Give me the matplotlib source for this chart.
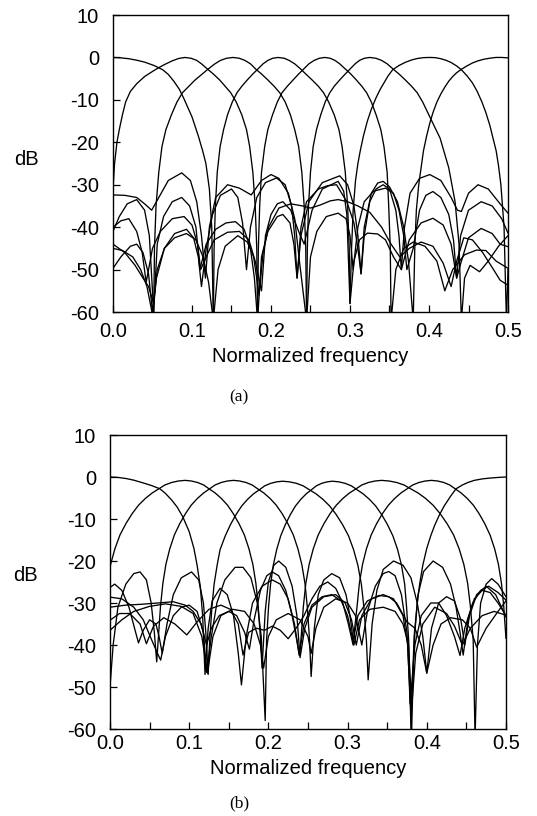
import matplotlib
matplotlib.use("Agg")
import matplotlib.pyplot as plt
from matplotlib.ticker import MultipleLocator, FormatStrFormatter

plt.rcParams['axes.unicode_minus'] = False
plt.rcParams['font.family'] = ['Liberation Sans', 'DejaVu Sans']

# ---------------- Panel (a): magnitude responses (normalized frequency, dB) ----------------
A0 = [(0,0),(0.01,-0.1),(0.02,-0.3),(0.03,-0.65),(0.04,-1.1),(0.052,-1.9),(0.063,-2.9),(0.07,-4),(0.077,-5.6),(0.084,-7.5),(0.09,-9.8),(0.1,-14),(0.108,-18.5),(0.1135,-22),(0.1176,-25),(0.122,-31),(0.125,-40),(0.127,-62),
      (0.133,-50),(0.142,-44.5),(0.158,-42),(0.17,-43.5),(0.178,-47),(0.185,-56),(0.19,-46),(0.197,-40),(0.21,-35.5),(0.225,-34.5),(0.24,-35),(0.25,-35.5),(0.262,-34.8),(0.275,-33.8),(0.285,-33.5),(0.297,-34),(0.31,-35),(0.325,-36.5),(0.34,-40),(0.352,-44),(0.363,-47),(0.375,-45),(0.39,-43.5),(0.405,-44.5),(0.418,-48.5),(0.428,-54),(0.435,-48),(0.444,-42.5),(0.455,-43),(0.468,-46),(0.48,-49.5),(0.49,-52.5),(0.5,-53.7)]
A1 = [(0,-31),(0.002,-25),(0.005,-20),(0.008,-17),(0.012,-13.5),(0.016,-10.5),(0.022,-8),(0.03,-6.2),(0.04,-4.5),(0.05,-3.3),(0.057,-2.5),(0.066,-1.6),(0.075,-0.8),(0.083,-0.25),(0.091,0),
      (0.099,-0.2),(0.106,-0.7),(0.112,-1.5),(0.12,-2.8),(0.127,-3.9),(0.135,-5.3),(0.142,-6.8),(0.149,-8.3),(0.156,-10.5),(0.163,-13.5),(0.169,-17),(0.173,-21),(0.177,-27),(0.18,-35),(0.182,-45),(0.183,-62),
      (0.188,-47),(0.196,-41),(0.208,-37.5),(0.215,-37),(0.224,-39),(0.229,-44),(0.233,-52),
      (0.238,-40),(0.245,-34),(0.26,-31),(0.272,-30.2),(0.283,-30),(0.296,-34),(0.305,-39),(0.31,-45),(0.314,-51),
      (0.318,-42),(0.325,-34),(0.333,-31),(0.342,-30),(0.35,-31),(0.358,-36),(0.362,-42),(0.365,-50),
      (0.369,-40),(0.376,-32),(0.388,-28.5),(0.401,-27.6),(0.415,-29),(0.428,-33),(0.436,-36),(0.441,-36.3),(0.45,-32),(0.462,-30),(0.475,-31),(0.49,-34.5),(0.5,-36.7)]
A2 = [(0,-45),(0.012,-45.5),(0.025,-47),(0.035,-50),(0.043,-54),(0.0515,-62),
      (0.0525,-45),(0.0545,-35),(0.058,-27),(0.062,-21),(0.067,-17),(0.074,-13.5),(0.081,-10.5),(0.088,-8.3),(0.096,-6.8),(0.104,-5.3),(0.113,-3.9),(0.12,-2.8),(0.129,-1.5),(0.136,-0.7),(0.1435,-0.2),(0.152,0),
      (0.16,-0.2),(0.167,-0.7),(0.174,-1.5),(0.181,-2.8),(0.188,-3.9),(0.196,-5.3),(0.204,-6.8),(0.211,-8.3),(0.218,-10.5),(0.2245,-13.5),(0.23,-17),(0.235,-21),(0.239,-27),(0.242,-35),(0.244,-45),(0.245,-62),
      (0.25,-47),(0.258,-41),(0.27,-37.5),(0.285,-36.7),(0.295,-38),(0.3,-42),(0.304,-50),
      (0.31,-40),(0.318,-34),(0.33,-31.5),(0.345,-30.8),(0.355,-32),(0.362,-36),(0.368,-42),(0.372,-50),
      (0.38,-45),(0.388,-36),(0.396,-32.5),(0.405,-31.6),(0.415,-33),(0.425,-37),(0.431,-43),(0.435,-52),
      (0.44,-42),(0.45,-36),(0.466,-34),(0.48,-35),(0.492,-38),(0.5,-41.4)]
A3 = [(0,-44),(0.015,-46),(0.028,-49),(0.038,-52),(0.045,-54),(0.0515,-58),(0.056,-50),(0.065,-45),(0.078,-42.5),(0.093,-41.5),(0.105,-43),(0.114,-47),(0.121,-53),(0.127,-62),
      (0.128,-45),(0.1296,-35),(0.132,-27),(0.1356,-21),(0.14,-17),(0.145,-13.5),(0.151,-10.5),(0.157,-8.3),(0.163,-6.8),(0.17,-5.3),(0.177,-3.9),(0.183,-2.8),(0.19,-1.5),(0.196,-0.7),(0.202,-0.2),(0.209,0),
      (0.217,-0.2),(0.223,-0.7),(0.23,-1.5),(0.238,-2.8),(0.244,-3.9),(0.252,-5.3),(0.26,-6.8),(0.2665,-8.3),(0.273,-10.5),(0.28,-13.5),(0.286,-17),(0.29,-21),(0.294,-27),(0.297,-35),(0.299,-45),(0.3,-58),
      (0.305,-48),(0.312,-43),(0.322,-41.4),(0.335,-41.6),(0.345,-43),(0.355,-47),(0.365,-50),(0.375,-43),(0.39,-39),(0.405,-37.9),(0.418,-39.5),(0.428,-44),(0.435,-52),(0.441,-48),(0.45,-42.5),(0.466,-40.3),(0.48,-41.5),(0.49,-44),(0.5,-44.6)]
A4 = [(0,-41),(0.008,-37.5),(0.018,-34.5),(0.03,-33.5),(0.04,-36),(0.046,-42),(0.0515,-60),(0.056,-44),(0.064,-37.5),(0.075,-34),(0.087,-33),(0.097,-35),(0.105,-40),(0.11,-50),(0.118,-44),(0.13,-40.5),(0.143,-39),(0.155,-38.7),(0.166,-40.5),(0.174,-45),(0.179,-52),(0.183,-62),
      (0.184,-45),(0.1857,-35),(0.188,-27),(0.192,-21),(0.196,-17),(0.202,-13.5),(0.208,-10.5),(0.214,-8.3),(0.2206,-6.8),(0.228,-5.3),(0.235,-3.9),(0.241,-2.8),(0.248,-1.5),(0.2546,-0.7),(0.261,-0.2),(0.268,0),
      (0.275,-0.2),(0.281,-0.7),(0.287,-1.5),(0.2945,-2.8),(0.301,-3.9),(0.308,-5.3),(0.315,-6.8),(0.321,-8.3),(0.327,-10.5),(0.333,-13.5),(0.339,-17),(0.343,-21),(0.347,-27),(0.349,-35),(0.351,-45),(0.352,-62),
      (0.358,-50),(0.368,-45),(0.38,-43.5),(0.395,-44.5),(0.41,-48),(0.42,-55),(0.43,-50),(0.445,-46.5),(0.46,-45.4),(0.472,-45.5),(0.485,-48),(0.5,-49.7)]
A5 = [(0,-32.4),(0.015,-32.5),(0.03,-33),(0.04,-34.5),(0.049,-36),(0.058,-33),(0.07,-29),(0.087,-27.2),(0.098,-29),(0.106,-34),(0.112,-42),(0.117,-52),(0.122,-40),(0.13,-33),(0.145,-30),(0.16,-30.8),(0.175,-32.4),(0.188,-29),(0.2,-27.6),(0.21,-28.5),(0.222,-32),(0.23,-38),(0.236,-48),(0.245,-62),
      (0.246,-45),(0.2475,-35),(0.25,-27),(0.2534,-21),(0.2576,-17),(0.263,-13.5),(0.2686,-10.5),(0.2745,-8.3),(0.28,-6.8),(0.287,-5.3),(0.294,-3.9),(0.2997,-2.8),(0.3065,-1.5),(0.312,-0.7),(0.318,-0.2),(0.325,0),
      (0.333,-0.2),(0.34,-0.7),(0.347,-1.5),(0.355,-2.8),(0.362,-3.9),(0.37,-5.3),(0.378,-6.8),(0.385,-8.3),(0.392,-10.5),(0.401,-14),(0.414,-19),(0.425,-26),(0.433,-34),(0.438,-44),(0.441,-62),
      (0.445,-52),(0.452,-49),(0.464,-50.5),(0.475,-48),(0.488,-44.5),(0.5,-42)]
A6 = [(0,-40),(0.01,-38.5),(0.02,-38),(0.03,-41),(0.037,-46),(0.042,-53),(0.05,-45),(0.06,-41),(0.075,-38),(0.09,-37.5),(0.1,-39.5),(0.107,-44),(0.111,-50),(0.118,-47),(0.128,-43),(0.145,-41.2),(0.16,-41),(0.172,-43),(0.18,-48),(0.188,-55),(0.193,-42),(0.2,-37),(0.208,-34.5),(0.215,-34),(0.225,-36),(0.235,-41),(0.242,-44),(0.252,-36),(0.265,-31),(0.285,-29.2),(0.292,-31.5),(0.296,-37),(0.3,-58),
      (0.302,-45),(0.304,-36),(0.307,-29),(0.31,-25),(0.313,-22),(0.317,-18.5),(0.322,-15),(0.327,-12.2),(0.333,-9.5),(0.338,-7.6),(0.343,-6),(0.348,-4.4),(0.354,-2.9),(0.362,-1.9),(0.37,-1.15),(0.378,-0.6),(0.385,-0.25),(0.393,-0.05),(0.401,0),
      (0.408,-0.05),(0.415,-0.3),(0.422,-0.7),(0.428,-1.2),(0.435,-2),(0.441,-2.9),(0.448,-4.3),(0.455,-6),(0.461,-8),(0.467,-10.5),(0.472,-13),(0.477,-16),(0.481,-19),(0.485,-22),(0.488,-25.5),(0.491,-30),(0.495,-40),(0.498,-62),(0.5,-50)]
A7 = [(0,-49.7),(0.01,-47),(0.022,-44.5),(0.03,-44),(0.038,-46),(0.045,-51),(0.05,-60),(0.055,-52),(0.065,-45),(0.078,-41.5),(0.093,-40.5),(0.102,-42.5),(0.108,-47),(0.112,-54),(0.118,-45),(0.126,-37),(0.136,-32.5),(0.15,-31),(0.158,-33),(0.164,-39),(0.169,-50),(0.174,-40),(0.182,-33),(0.193,-29.5),(0.207,-28.4),(0.218,-30),(0.226,-35),(0.23,-42),(0.233,-52),(0.238,-42),(0.248,-34),(0.265,-29.5),(0.287,-27.9),(0.297,-30),(0.305,-35),(0.31,-42),(0.314,-51),(0.318,-40),(0.327,-32),(0.335,-29.6),(0.342,-29.2),(0.35,-30.5),(0.36,-34),(0.368,-40),(0.374,-48),(0.38,-62),
      (0.382,-45),(0.384,-36),(0.387,-30),(0.39,-26),(0.393,-22),(0.397,-18.5),(0.401,-15.5),(0.405,-13),(0.41,-10.5),(0.415,-8.6),(0.42,-7),(0.425,-5.6),(0.43,-4.5),(0.435,-3.6),(0.441,-2.8),(0.448,-2),(0.455,-1.3),(0.462,-0.8),(0.47,-0.4),(0.478,-0.15),(0.485,0),(0.492,0),(0.5,-0.1)]

# ---------------- Panel (b) ----------------
B0 = [(0,0),(0.01,-0.1),(0.02,-0.35),(0.03,-0.75),(0.04,-1.3),(0.052,-2),(0.063,-2.8),(0.07,-3.9),(0.078,-5.5),(0.085,-7.2),(0.092,-9.5),(0.1,-13),(0.106,-17),(0.11,-21),(0.114,-26),(0.117,-33),(0.12,-47),
      (0.124,-36),(0.129,-29.5),(0.139,-26.5),(0.148,-28),(0.156,-33),(0.162,-42),(0.166,-49.5),
      (0.172,-38),(0.18,-30),(0.192,-26),(0.205,-24.5),(0.215,-25.5),(0.225,-29),(0.233,-35),(0.239,-42.4),
      (0.245,-35),(0.255,-30.5),(0.268,-28.5),(0.28,-28),(0.292,-29.5),(0.3,-33),(0.307,-39.2),
      (0.313,-33),(0.325,-29.5),(0.34,-28.2),(0.352,-28.5),(0.362,-30),(0.375,-34.5),(0.385,-36),(0.393,-40),(0.4,-46.7),
      (0.408,-40),(0.418,-35),(0.43,-33.5),(0.445,-34),(0.455,-36),(0.463,-40.5),(0.475,-36),(0.49,-32),(0.5,-29.5)]
B1 = [(0,-21.5),(0.0008,-20.8),(0.0062,-17.1),(0.0126,-13.8),(0.0201,-11.1),(0.0281,-8.7),(0.0361,-6.7),(0.0447,-5.1),(0.0533,-3.8),(0.0618,-2.8),(0.0693,-1.9),(0.0779,-1.3),(0.0864,-0.95),(0.095,-0.8),
      (0.1028,-0.95),(0.1105,-1.3),(0.1183,-1.9),(0.125,-2.8),(0.1328,-3.8),(0.1406,-5.1),(0.1484,-6.7),(0.1556,-8.7),(0.1629,-11.1),(0.1697,-13.8),(0.1755,-17.1),(0.1804,-20.8),(0.1842,-25.3),(0.1872,-30.8),(0.1901,-38.8),(0.192,-45.5),
      (0.196,-32),(0.2,-25),(0.207,-21),(0.213,-20),(0.222,-21.5),(0.23,-26),(0.236,-33),(0.24,-43),
      (0.246,-36),(0.255,-31),(0.27,-28.5),(0.285,-28),(0.297,-30),(0.305,-34),(0.311,-40),
      (0.318,-33),(0.33,-29),(0.345,-28),(0.358,-29),(0.37,-33),(0.376,-40),(0.379,-54),
      (0.385,-40),(0.393,-33),(0.405,-30),(0.415,-30),(0.425,-33),(0.435,-38),(0.442,-42.5),
      (0.448,-36),(0.458,-30),(0.468,-27),(0.478,-26),(0.49,-27.5),(0.5,-29.3)]
B2 = [(0,-50),(0.004,-40),(0.01,-31),(0.02,-25.5),(0.03,-23),(0.038,-22.6),(0.046,-24.5),(0.052,-30),(0.056,-37),(0.059,-44),
      (0.0609,-38.8),(0.0638,-30.8),(0.0668,-25.3),(0.0706,-20.8),(0.0755,-17.1),(0.0813,-13.8),(0.0881,-11.1),(0.0954,-8.7),(0.1026,-6.7),(0.1104,-5.1),(0.1182,-3.8),(0.1259,-2.8),(0.1327,-1.9),(0.1405,-1.3),(0.1482,-0.95),(0.156,-0.8),
      (0.1638,-0.95),(0.1717,-1.3),(0.1795,-1.9),(0.1864,-2.8),(0.1942,-3.8),(0.2021,-5.1),(0.2099,-6.7),(0.2173,-8.7),(0.2246,-11.1),(0.2315,-13.8),(0.2373,-17.1),(0.2422,-20.8),(0.2462,-25.3),(0.2491,-30.8),(0.252,-38.8),(0.254,-47.5),
      (0.258,-36),(0.263,-28),(0.27,-24.5),(0.28,-23),(0.29,-24),(0.298,-28),(0.303,-33),(0.308,-40),
      (0.315,-34),(0.328,-31.5),(0.345,-31),(0.36,-32),(0.37,-35),(0.377,-40),(0.381,-55),
      (0.386,-42),(0.395,-35),(0.41,-31),(0.425,-32.5),(0.435,-35.5),(0.445,-40),
      (0.455,-36),(0.47,-33),(0.485,-32),(0.5,-32.9)]
B3 = [(0,-26.3),(0.006,-25.5),(0.015,-27),(0.024,-31),(0.031,-36),(0.036,-39.5),(0.042,-36.5),(0.05,-34),(0.058,-35),(0.062,-38),(0.066,-42),(0.072,-35),(0.08,-28),(0.09,-24),(0.103,-22.6),(0.112,-24.5),(0.118,-30),(0.121,-37),(0.124,-47),
      (0.1259,-39),(0.1287,-31),(0.1315,-25.5),(0.1353,-21),(0.139,-17.3),(0.1456,-14),(0.1522,-11.3),(0.1593,-8.9),(0.1663,-6.9),(0.1738,-5.3),(0.1813,-4),(0.1889,-3),(0.1954,-2.1),(0.203,-1.5),(0.2105,-1.15),(0.218,-1),
      (0.2266,-1.15),(0.2353,-1.5),(0.2439,-2.1),(0.2515,-3),(0.2601,-4),(0.2688,-5.3),(0.2774,-6.9),(0.2855,-8.9),(0.2936,-11.3),(0.3012,-14),(0.3076,-17.3),(0.313,-21),(0.3174,-25.5),(0.3206,-31),(0.3238,-39),(0.326,-48.3),
      (0.331,-35),(0.337,-27),(0.345,-22),(0.358,-20),(0.37,-21),(0.38,-24),(0.388,-30),(0.395,-38),(0.4,-46.7),
      (0.406,-36),(0.415,-30),(0.425,-28.5),(0.435,-29.5),(0.443,-34),(0.448,-40),
      (0.454,-33),(0.463,-28),(0.475,-26),(0.487,-28),(0.5,-33.3)]
B4 = [(0,-28.6),(0.015,-29),(0.03,-31),(0.042,-34),(0.052,-38.5),(0.06,-42),(0.064,-43.6),(0.07,-38),(0.08,-33),(0.09,-31),(0.1,-30.5),(0.11,-32),(0.118,-37),(0.122,-46.5),
      (0.128,-38),(0.135,-30),(0.145,-24.5),(0.158,-21.5),(0.168,-21.5),(0.178,-24),(0.186,-30),(0.191,-38),(0.196,-58),
      (0.1977,-39),(0.2002,-31),(0.2028,-25.5),(0.2062,-21),(0.2105,-17.3),(0.2156,-14),(0.2215,-11.3),(0.2279,-8.9),(0.2342,-6.9),(0.241,-5.3),(0.2478,-4),(0.2546,-3),(0.2606,-2.1),(0.2674,-1.5),(0.2742,-1.15),(0.281,-1),
      (0.2889,-1.15),(0.2968,-1.5),(0.3048,-2.1),(0.3117,-3),(0.3196,-4),(0.3275,-5.3),(0.3355,-6.9),(0.3429,-8.9),(0.3503,-11.3),(0.3572,-14),(0.3632,-17.3),(0.3681,-21),(0.3721,-25.5),(0.3745,-31),(0.3772,-39),(0.38,-60),
      (0.384,-38),(0.389,-28),(0.396,-22.5),(0.408,-20),(0.42,-21.5),(0.43,-25.5),(0.437,-31),(0.442,-37),(0.446,-42.4),
      (0.452,-34),(0.46,-29),(0.47,-27),(0.48,-27.5),(0.49,-30),(0.5,-33)]
B5 = [(0,-31),(0.02,-30.5),(0.04,-30.3),(0.06,-30),(0.08,-29.7),(0.095,-30.5),(0.105,-32),(0.115,-35),(0.122,-40),(0.128,-36),(0.138,-33),(0.15,-32),(0.16,-33),(0.17,-37),(0.176,-41),
      (0.182,-34),(0.19,-27),(0.198,-23.5),(0.205,-22.6),(0.213,-23.5),(0.222,-27),(0.23,-33),(0.236,-39),(0.239,-42.4),
      (0.2411,-38.8),(0.2442,-30.8),(0.2473,-25.3),(0.2515,-20.8),(0.2567,-17.1),(0.2629,-13.8),(0.2702,-11.1),(0.278,-8.7),(0.2858,-6.7),(0.2941,-5.1),(0.3024,-3.8),(0.3108,-2.8),(0.318,-1.9),(0.3264,-1.3),(0.3347,-0.95),(0.343,-0.8),
      (0.3524,-0.95),(0.3619,-1.3),(0.3713,-1.9),(0.3796,-2.8),(0.389,-3.8),(0.3985,-5.1),(0.4079,-6.7),(0.4168,-8.7),(0.4256,-11.1),(0.4339,-13.8),(0.4409,-17.1),(0.4468,-20.8),(0.4516,-25.3),(0.4551,-30.8),(0.4586,-38.8),(0.461,-62),
      (0.464,-40),(0.468,-30),(0.475,-25.5),(0.482,-24.2),(0.49,-25.5),(0.5,-28.5)]
B6 = [(0,-34.1),(0.012,-32.5),(0.025,-32.5),(0.038,-35),(0.046,-39.7),(0.055,-35.5),(0.068,-33.5),(0.082,-35),(0.097,-37.6),(0.11,-34.5),(0.125,-31.5),(0.14,-30.5),(0.152,-31.5),(0.162,-35),(0.168,-42.4),(0.175,-37),(0.185,-36),(0.195,-36.5),(0.205,-35.5),(0.215,-36.5),(0.225,-38.5),(0.235,-36),(0.245,-33),(0.255,-29),(0.265,-26),(0.275,-25),(0.285,-26.5),(0.294,-30),(0.301,-35),(0.307,-40),
      (0.309,-36),(0.312,-30.8),(0.3149,-25.3),(0.3189,-20.8),(0.3238,-17.1),(0.3298,-13.8),(0.3367,-11.1),(0.3441,-8.7),(0.3516,-6.7),(0.3595,-5.1),(0.3674,-3.8),(0.3753,-2.8),(0.3822,-1.9),(0.3902,-1.3),(0.3981,-0.95),(0.406,-0.8),
      (0.4137,-0.95),(0.4214,-1.3),(0.429,-1.9),(0.4358,-2.8),(0.4434,-3.8),(0.4511,-5.1),(0.4588,-6.7),(0.466,-8.7),(0.4732,-11.1),(0.4799,-13.8),(0.4857,-17.1),(0.4905,-20.8),(0.4943,-25.3),(0.4972,-30.8),(0.5,-38.4)]
B7 = [(0,-36.5),(0.015,-34),(0.03,-32),(0.05,-30.8),(0.07,-30.2),(0.09,-30.8),(0.105,-32.5),(0.116,-38),(0.123,-46.7),(0.13,-38),(0.14,-33),(0.155,-31.5),(0.17,-32),(0.182,-35),(0.19,-40),(0.194,-45.5),(0.2,-38),(0.21,-34),(0.225,-32.5),(0.24,-34),(0.25,-38),(0.254,-42),(0.26,-36),(0.27,-31),(0.285,-29),(0.3,-30),(0.31,-33),(0.318,-40),(0.325,-32),(0.335,-26),(0.345,-23),(0.352,-22.5),(0.36,-23.5),(0.368,-28),(0.375,-37),(0.381,-60),
      (0.383,-45),(0.385,-37),(0.388,-30),(0.391,-25.5),(0.395,-21),(0.4,-17),(0.405,-14),(0.41,-11.5),(0.416,-9),(0.422,-6.9),(0.43,-4.6),(0.437,-2.8),(0.445,-1.9),(0.452,-1.3),(0.46,-0.8),(0.47,-0.45),(0.48,-0.25),(0.49,-0.1),(0.5,0)]

X_TICKS = [0.0, 0.1, 0.2, 0.3, 0.4, 0.5]
Y_TICKS = [-60, -50, -40, -30, -20, -10, 0, 10]
X_LABEL = "Normalized frequency"
Y_LABEL = "dB"

FS = 14.5
fig = plt.figure(figsize=(5.37, 8.16), dpi=100)


def panel(rect, curves, xpad):
    ax = fig.add_axes(rect)
    for c in curves:
        f = [p[0] for p in c]
        d = [p[1] for p in c]
        ax.plot(f, d, color='black', lw=0.95, solid_joinstyle='round')
    ax.set_xlim(0, 0.5)
    ax.set_ylim(-60, 10)
    ax.set_xticks(X_TICKS)
    ax.set_yticks(Y_TICKS)
    ax.xaxis.set_minor_locator(MultipleLocator(0.05))
    ax.xaxis.set_major_formatter(FormatStrFormatter('%.1f'))
    ax.yaxis.set_major_formatter(FormatStrFormatter('%d'))
    ax.tick_params(which='both', direction='in', length=5, width=0.9, top=False, right=False)
    ax.tick_params(axis='x', labelsize=FS, pad=xpad)
    ax.tick_params(axis='y', labelsize=FS, pad=10)
    for s in ax.spines.values():
        s.set_linewidth(1.0)
    return ax


ax_a = panel([0.2104, 0.6176, 0.7356, 0.364], [A0, A1, A2, A3, A4, A5, A6, A7], 7)
ax_b = panel([0.2048, 0.1066, 0.7374, 0.3603], [B0, B1, B2, B3, B4, B5, B6, B7], 3.5)

# axis titles (placed to match the original layout)
fig.text(0.578, 0.5625, X_LABEL, fontsize=FS, ha='center', va='center')
fig.text(0.574, 0.058, X_LABEL, fontsize=FS, ha='center', va='center')
fig.text(0.049, 0.805, Y_LABEL, fontsize=FS, ha='center', va='center')
fig.text(0.047, 0.295, Y_LABEL, fontsize=FS, ha='center', va='center')
fig.text(0.445, 0.5135, "(a)", fontsize=12.5, ha='center', va='center', family='Liberation Serif')
fig.text(0.445, 0.015, "(b)", fontsize=12.5, ha='center', va='center', family='Liberation Serif')

fig.savefig("out.png", dpi=100)
